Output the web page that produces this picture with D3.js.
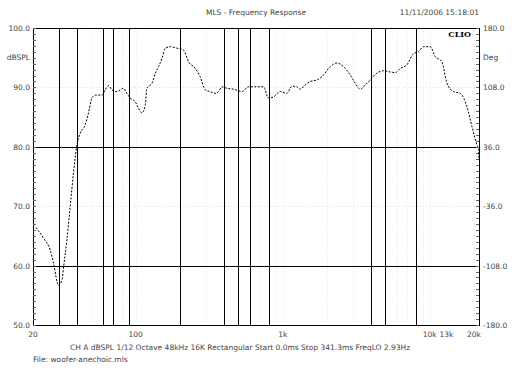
<!DOCTYPE html>
<html>
<head>
<meta charset="utf-8">
<script src="https://cdn.jsdelivr.net/npm/d3@7"></script>
<style>
  body { margin: 0; background: #ffffff; }
  text { font-family: "DejaVu Sans", sans-serif; }
</style>
</head>
<body>
<div id="chart"></div>
<script>
// Frequency response
const freqHz = [21, 23.6, 26.2, 27.6, 29.8, 31.5, 32.3, 34, 35.8, 37.7,
  39.8, 41.9, 45.3, 47.7, 50.3, 53, 58.9, 62, 65.3, 68.8,
  74.4, 82.5, 87.1, 91.7, 99.2, 104.5, 110, 116, 119, 129,
  136, 143, 151, 159, 172, 191, 211, 229, 254, 274,
  297, 321, 347, 366, 386, 417, 462, 527, 585, 740,
  800, 865, 961, 1067, 1154, 1248, 1315, 1422, 1538, 1707,
  1846, 2103, 2335, 2589, 2877, 3112, 3364, 3640, 3936, 4368,
  4843, 5380, 5820, 6296, 6990, 7750, 8380, 9060, 10070, 10890,
  12100, 13100, 14520, 16120, 17910, 19370, 20950, 21480, 21620];
const splDb = [66.4, 64.6, 62.6, 60.4, 56.7, 57.6, 59.8, 64.3, 69.9, 75.6,
  80.3, 82.3, 83.7, 85.7, 88.2, 88.7, 88.7, 89.6, 90.3, 89.6,
  89.3, 89.85, 89.0, 88.2, 87.6, 86.5, 85.7, 87.0, 89.85, 90.7,
  92.4, 93.5, 94.9, 96.6, 96.85, 96.6, 96.3, 94.3, 93.2, 91.8,
  89.6, 89.3, 89.0, 89.3, 90.1, 89.85, 89.7, 89.3, 90.1, 90.1,
  88.2, 88.4, 89.3, 89.0, 90.2, 90.1, 89.7, 90.4, 91.0, 91.25,
  91.8, 93.5, 94.1, 93.5, 92.1, 90.7, 89.7, 90.4, 91.25, 92.4,
  92.8, 92.6, 92.5, 93.2, 93.8, 95.7, 96.0, 96.85, 96.85, 95.2,
  94.3, 90.7, 89.3, 89.0, 86.75, 83.4, 80.3, 79.5, 77.8];

const xTickValues = [20, 100, 1000, 10000, 13000, 20000];
const xTickLabels = ['20', '100', '1k', '10k', '13k', '20k'];
const dbTicks     = [100, 90, 80, 70, 60, 50];
const degTicks    = [180, 108, 36, -36, -108, -180];
const boldFreqs   = [30, 40, 60, 70, 90, 200, 400, 500, 600, 800, 4000, 5000, 8000];
const boldDb      = [80, 60];

const widthContainer  = 512;
const heightContainer = 384;
const margin = {top: 28, left: 33, right: 33, bottom: 59};

let svg = d3.select('#chart')
  .append('svg')
  .attr('width', widthContainer)
  .attr('height', heightContainer);

let xScale = d3.scaleLog()
  .domain([20, 21630])
  .range([margin.left, widthContainer - margin.right]);

let yScale = d3.scaleLinear()
  .domain([50, 100])
  .range([heightContainer - margin.bottom, margin.top]);

let phaseScale = d3.scaleLinear()
  .domain([-180, 180])
  .range([heightContainer - margin.bottom, margin.top]);

const x0 = xScale.range()[0], x1 = xScale.range()[1];
const y0 = yScale.range()[1], y1 = yScale.range()[0];

// faint grid
let faintFreqs = [];
[10, 100, 1000, 10000].forEach(dec => {
  for (let k = 1; k < 10; k++) {
    let f = dec * k;
    if (f > 20 && f < 21000 && !boldFreqs.includes(f)) faintFreqs.push(f);
  }
});
svg.append('g').selectAll('line')
  .data(faintFreqs)
  .enter().append('line')
  .attr('x1', d => Math.round(xScale(d)) + 0.5)
  .attr('x2', d => Math.round(xScale(d)) + 0.5)
  .attr('y1', y0).attr('y2', y1)
  .style('stroke', '#e4e4e4')
  .style('stroke-dasharray', '1,2');

svg.append('g').selectAll('line')
  .data([90, 70])
  .enter().append('line')
  .attr('x1', x0).attr('x2', x1)
  .attr('y1', d => Math.round(yScale(d)) + 0.5)
  .attr('y2', d => Math.round(yScale(d)) + 0.5)
  .style('stroke', '#e4e4e4')
  .style('stroke-dasharray', '1,2');

// dark grid lines
svg.append('g').selectAll('line')
  .data(boldFreqs)
  .enter().append('line')
  .attr('x1', d => Math.round(xScale(d)) + 0.5)
  .attr('x2', d => Math.round(xScale(d)) + 0.5)
  .attr('y1', y0).attr('y2', y1)
  .style('stroke', '#000')
  .style('stroke-width', 1);

svg.append('g').selectAll('line')
  .data(boldDb)
  .enter().append('line')
  .attr('x1', x0).attr('x2', x1)
  .attr('y1', d => Math.round(yScale(d)) + 0.5)
  .attr('y2', d => Math.round(yScale(d)) + 0.5)
  .style('stroke', '#000')
  .style('stroke-width', 1);

// frame
svg.append('rect')
  .attr('x', x0 + 0.5).attr('y', y0 + 0.5)
  .attr('width', x1 - x0).attr('height', y1 - y0)
  .style('fill', 'none')
  .style('stroke', '#000');

// minor ticks on both vertical axes
let dbMinor = d3.range(50, 100.1, 1);
svg.append('g').selectAll('line')
  .data(dbMinor)
  .enter().append('line')
  .attr('x1', x0).attr('x2', x0 + 3)
  .attr('y1', d => Math.round(yScale(d)) + 0.5)
  .attr('y2', d => Math.round(yScale(d)) + 0.5)
  .style('stroke', '#666');

let degMinor = d3.range(-180, 180.1, 7.2);
svg.append('g').selectAll('line')
  .data(degMinor)
  .enter().append('line')
  .attr('x1', x1 - 3).attr('x2', x1)
  .attr('y1', d => Math.round(phaseScale(d)) + 0.5)
  .attr('y2', d => Math.round(phaseScale(d)) + 0.5)
  .style('stroke', '#666');

// response curve
let line = d3.line()
  .x((d, i) => xScale(freqHz[i]))
  .y(d => yScale(d))
  .curve(d3.curveMonotoneX);

svg.append('path')
  .datum(splDb)
  .attr('d', line)
  .style('fill', 'none')
  .style('stroke', '#000')
  .style('stroke-width', 1)
  .style('stroke-dasharray', '2,1.5');

// axis labels
const labelStyle = sel => sel
  .style('font-size', '7.5px')
  .style('fill', '#444');

svg.append('g').selectAll('text')
  .data(dbTicks)
  .enter().append('text')
  .attr('x', x0 - 3)
  .attr('y', d => yScale(d) + 3)
  .attr('text-anchor', 'end')
  .text(d => d.toFixed(1))
  .call(labelStyle);

svg.append('text')
  .attr('x', x0 - 3).attr('y', 60)
  .attr('text-anchor', 'end')
  .text('dBSPL')
  .call(labelStyle);

svg.append('g').selectAll('text')
  .data(degTicks)
  .enter().append('text')
  .attr('x', x1 + 4)
  .attr('y', d => phaseScale(d) + 3)
  .text(d => d.toFixed(1))
  .call(labelStyle);

svg.append('text')
  .attr('x', x1 + 4).attr('y', 60)
  .text('Deg')
  .call(labelStyle);

svg.append('g').selectAll('text')
  .data(xTickValues)
  .enter().append('text')
  .attr('x', d => xScale(d))
  .attr('y', y1 + 12)
  .attr('text-anchor', 'middle')
  .text((d, i) => xTickLabels[i])
  .call(labelStyle);

// titles and footer
svg.append('text')
  .attr('x', 256).attr('y', 15)
  .attr('text-anchor', 'middle')
  .text('MLS - Frequency Response')
  .call(labelStyle);

svg.append('text')
  .attr('x', x1).attr('y', 15)
  .attr('text-anchor', 'end')
  .text('11/11/2006 15:18:01')
  .call(labelStyle);

svg.append('text')
  .attr('x', x1 - 8).attr('y', 37)
  .attr('text-anchor', 'end')
  .style('font-family', '"DejaVu Serif", serif')
  .style('font-weight', 'bold')
  .style('font-size', '8px')
  .style('fill', '#000')
  .text('CLIO');

svg.append('text')
  .attr('x', 70).attr('y', 350)
  .text('CH A  dBSPL  1/12 Octave  48kHz  16K  Rectangular  Start 0.0ms  Stop 341.3ms  FreqLO 2.93Hz')
  .call(labelStyle);

svg.append('text')
  .attr('x', 33).attr('y', 362)
  .text('File: woofer-anechoic.mls')
  .call(labelStyle);
</script>
</body>
</html>
